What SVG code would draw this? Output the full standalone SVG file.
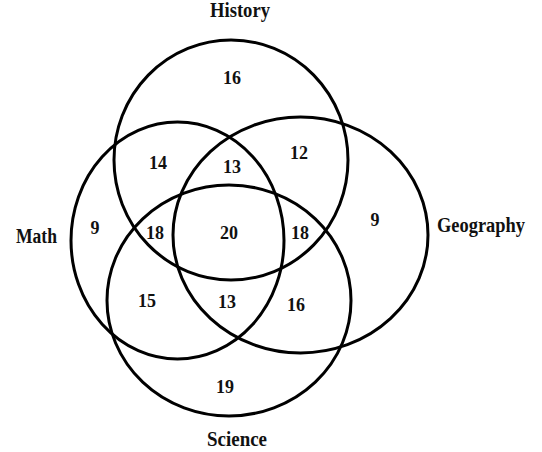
<svg xmlns="http://www.w3.org/2000/svg" width="542" height="452" viewBox="0 0 542 452">
<style>
.set{fill:none;stroke:#000;stroke-width:3}
.lbl{font-family:"Liberation Serif","DejaVu Serif",serif;font-weight:bold;font-size:20px;fill:#111}
.num{font-family:"Liberation Serif","DejaVu Serif",serif;font-weight:bold;font-size:18px;fill:#111;text-anchor:middle}
</style>
<rect width="542" height="452" fill="#fff"/>
<g id="history">
<ellipse class="set" cx="231" cy="160" rx="117" ry="120"/>
<text class="lbl" x="210" y="17" textLength="60" lengthAdjust="spacingAndGlyphs">History</text>
</g>
<g id="math">
<ellipse class="set" cx="177.5" cy="240.5" rx="106.5" ry="118.5"/>
<text class="lbl" x="16" y="243" textLength="41" lengthAdjust="spacingAndGlyphs">Math</text>
</g>
<g id="geography">
<ellipse class="set" cx="300.5" cy="235" rx="127.5" ry="118"/>
<text class="lbl" x="437" y="232" textLength="88" lengthAdjust="spacingAndGlyphs">Geography</text>
</g>
<g id="science">
<ellipse class="set" cx="229" cy="300.5" rx="122" ry="115.5"/>
<text class="lbl" x="207" y="446" textLength="60" lengthAdjust="spacingAndGlyphs">Science</text>
</g>
<g id="counts">
<text class="num" x="232" y="84">16</text>
<text class="num" x="158" y="169">14</text>
<text class="num" x="232" y="173">13</text>
<text class="num" x="299" y="159">12</text>
<text class="num" x="375" y="226">9</text>
<text class="num" x="95" y="234">9</text>
<text class="num" x="155" y="239">18</text>
<text class="num" x="229" y="239">20</text>
<text class="num" x="300" y="239">18</text>
<text class="num" x="147" y="307">15</text>
<text class="num" x="227" y="308">13</text>
<text class="num" x="296" y="311">16</text>
<text class="num" x="225" y="393">19</text>
</g>
</svg>
